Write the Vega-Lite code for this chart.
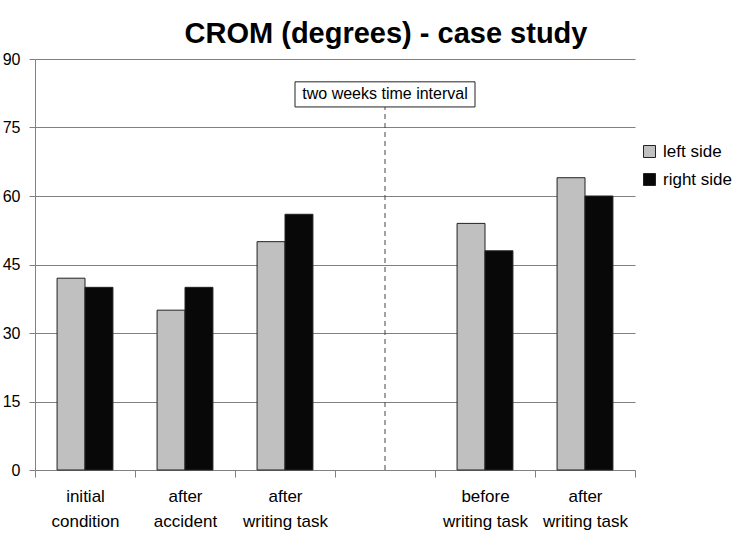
{
  "$schema": "https://vega.github.io/schema/vega-lite/v6.json",
  "autosize": "none",
  "width": 600,
  "height": 411,
  "padding": {"left": 35, "top": 59, "right": 121, "bottom": 72},
  "background": "white",
  "config": {"view": {"stroke": null}},
  "title": {
    "text": "CROM (degrees) - case study",
    "font": "Liberation Sans",
    "fontSize": 29,
    "fontWeight": "bold",
    "color": "black",
    "anchor": "middle",
    "dx": 51,
    "offset": 2
  },
  "datasets": {
    "bars": [
      {"cat": "c1", "side": "left side", "value": 42},
      {"cat": "c1", "side": "right side", "value": 40},
      {"cat": "c2", "side": "left side", "value": 35},
      {"cat": "c2", "side": "right side", "value": 40},
      {"cat": "c3", "side": "left side", "value": 50},
      {"cat": "c3", "side": "right side", "value": 56},
      {"cat": "c5", "side": "left side", "value": 54},
      {"cat": "c5", "side": "right side", "value": 48},
      {"cat": "c6", "side": "left side", "value": 64},
      {"cat": "c6", "side": "right side", "value": 60}
    ],
    "note": [
      {"cat": "c4", "base": 0, "top": 85, "bottom": 79.5, "mid": 82.3, "label": "two weeks time interval"}
    ]
  },
  "layer": [
    {
      "data": {"name": "bars"},
      "mark": {"type": "bar", "stroke": "#222222", "strokeWidth": 1},
      "encoding": {
        "x": {
          "field": "cat",
          "type": "nominal",
          "scale": {"domain": ["c1", "c2", "c3", "c4", "c5", "c6"], "paddingInner": 0, "paddingOuter": 0},
          "axis": {
            "title": null,
            "labelAngle": 0,
            "labelExpr": "datum.value == 'c1' ? ['initial', 'condition'] : datum.value == 'c2' ? ['after', 'accident'] : datum.value == 'c3' ? ['after', 'writing task'] : datum.value == 'c5' ? ['before', 'writing task'] : datum.value == 'c6' ? ['after', 'writing task'] : ''",
            "labelFont": "Liberation Sans",
            "labelFontSize": 17,
            "labelColor": "black",
            "labelLineHeight": 25,
            "labelPadding": 11,
            "tickBand": "extent",
            "tickSize": 7,
            "tickColor": "#808080",
            "domainColor": "#808080",
            "grid": false
          }
        },
        "xOffset": {
          "field": "side",
          "type": "nominal",
          "scale": {"paddingInner": 0, "paddingOuter": 0.79}
        },
        "y": {
          "field": "value",
          "type": "quantitative",
          "scale": {"domain": [0, 90], "nice": false},
          "axis": {
            "title": null,
            "values": [0, 15, 30, 45, 60, 75, 90],
            "labelFont": "Liberation Sans",
            "labelFontSize": 16,
            "labelColor": "black",
            "labelPadding": 9,
            "tickSize": 6,
            "tickColor": "#808080",
            "domainColor": "#808080",
            "grid": true,
            "gridColor": "#808080",
            "gridOpacity": 1
          }
        },
        "color": {
          "field": "side",
          "type": "nominal",
          "scale": {"domain": ["left side", "right side"], "range": ["#c0c0c0", "#080808"]},
          "legend": {
            "title": null,
            "orient": "none",
            "legendX": 606,
            "legendY": 84,
            "symbolType": "square",
            "symbolSize": 144,
            "symbolStrokeColor": "#222222",
            "symbolStrokeWidth": 1,
            "labelFont": "Liberation Sans",
            "labelFontSize": 17,
            "labelColor": "black",
            "rowPadding": 10,
            "labelOffset": 5
          }
        }
      }
    },
    {
      "data": {"name": "note"},
      "mark": {"type": "rule", "strokeDash": [5, 4], "color": "#444444", "strokeWidth": 1},
      "encoding": {
        "x": {"field": "cat", "type": "nominal"},
        "y": {"field": "base", "type": "quantitative"},
        "y2": {"field": "bottom"}
      }
    },
    {
      "data": {"name": "note"},
      "mark": {"type": "bar", "width": 180, "fill": "white", "stroke": "#222222", "strokeWidth": 1},
      "encoding": {
        "x": {"field": "cat", "type": "nominal"},
        "y": {"field": "top", "type": "quantitative"},
        "y2": {"field": "bottom"}
      }
    },
    {
      "data": {"name": "note"},
      "mark": {"type": "text", "font": "Liberation Sans", "fontSize": 16, "color": "black", "baseline": "middle"},
      "encoding": {
        "x": {"field": "cat", "type": "nominal"},
        "y": {"field": "mid", "type": "quantitative"},
        "text": {"field": "label"}
      }
    }
  ]
}
